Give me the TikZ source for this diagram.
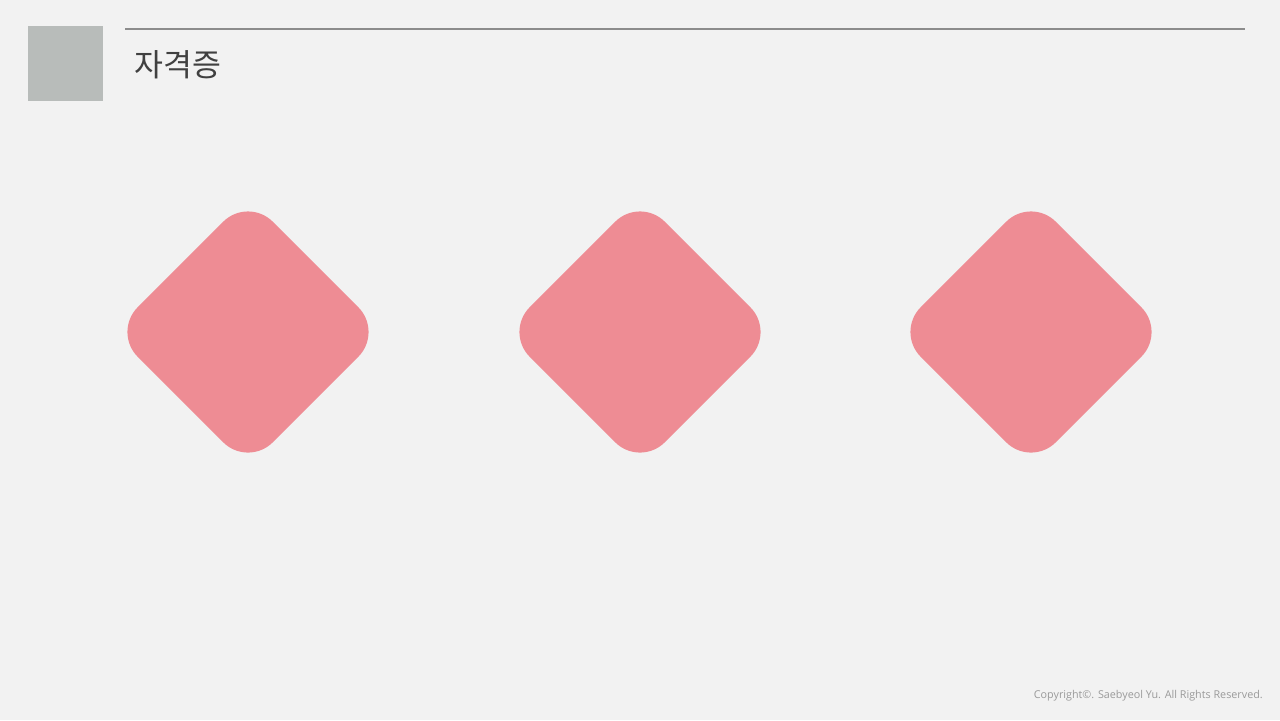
\documentclass[tikz,border=0pt]{standalone}
\usepackage{fontspec}
\usepackage{xcolor}
\usepackage{tikz}
\usetikzlibrary{positioning}
\newfontfamily\kofont{Noto Sans CJK KR}
\newfontfamily\copyfont{Open Sans}
\definecolor{slideBg}{HTML}{F2F2F2}
\definecolor{slideGray}{HTML}{B8BCBA}
\definecolor{slideRule}{HTML}{8C8C8C}
\definecolor{slideText}{HTML}{404040}
\definecolor{gemPink}{HTML}{EE8C94}
\definecolor{noteGray}{HTML}{9A9A9A}

\begin{document}
\begin{tikzpicture}[
  x=0.03cm, y=-0.03cm,
  %% Rounded square turned on its corner
  gem/.style={
    rounded corners=1.05cm,
    fill=gemPink,
    draw=none,
    minimum size=5.73cm,
    rotate=45
  },
  %% Slide title
  title/.style={
    anchor=base west,
    inner sep=0pt,
    font=\kofont\fontsize{26.8}{30}\selectfont,
    text=slideText
  },
  %% Footer note
  note/.style={
    anchor=base east,
    inner sep=0pt,
    font=\copyfont\fontsize{9.2}{11}\selectfont,
    text=noteGray
  }
]

%% ---- Background ----
\fill[slideBg] (0,0) rectangle (1280,720);
\useasboundingbox (0,0) rectangle (1280,720);

%% ---- Header ----
\fill[slideGray] (28,26) rectangle (103,101);
\coordinate (ruleL) at (125,29);
\coordinate (ruleR) at (1245,29);
\draw[slideRule, line width=1.6pt] (ruleL) -- (ruleR);
\node[title] (head) at (134.5,76) {자격증};

%% ---- Diamonds ----
\node[gem] (g1) at (248,332) {};
\node[gem] (g2) at (640,332) {};
\node[gem] (g3) at (1031,332) {};

%% ---- Footer ----
\node[note] (copy) at (1263,698) {Copyright©. Saebyeol Yu. All Rights Reserved.};

\end{tikzpicture}
\end{document}
